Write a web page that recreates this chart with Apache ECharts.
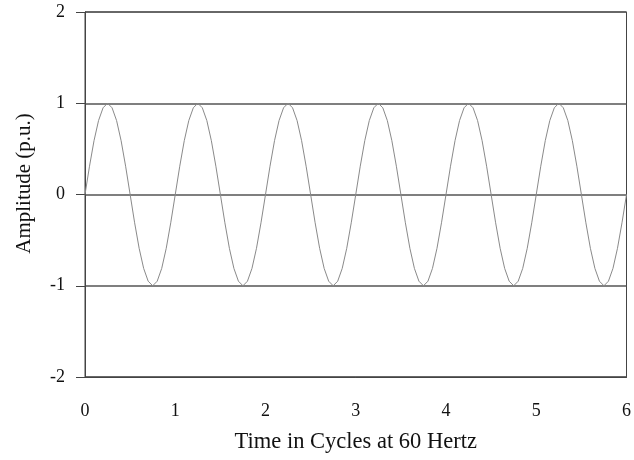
<!DOCTYPE html>
<html><head><meta charset="utf-8">
<script src="https://cdn.jsdelivr.net/npm/echarts@6/dist/echarts.min.js"></script>
<style>html,body{margin:0;padding:0;background:#fff}#c{width:634px;height:460px}</style>
</head><body><div id="c"></div>
<script>
var xTicks = [0, 1, 2, 3, 4, 5, 6];
var yTicks = [-2, -1, 0, 1, 2];
var timeCycles = [
0,0.05,0.1,0.15,0.2,0.25,0.3,0.35,0.4,0.45,0.5,0.55,0.6,0.65,0.7,0.75,0.8,0.85,0.9,0.95,
1,1.05,1.1,1.15,1.2,1.25,1.3,1.35,1.4,1.45,1.5,1.55,1.6,1.65,1.7,1.75,1.8,1.85,1.9,1.95,
2,2.05,2.1,2.15,2.2,2.25,2.3,2.35,2.4,2.45,2.5,2.55,2.6,2.65,2.7,2.75,2.8,2.85,2.9,2.95,
3,3.05,3.1,3.15,3.2,3.25,3.3,3.35,3.4,3.45,3.5,3.55,3.6,3.65,3.7,3.75,3.8,3.85,3.9,3.95,
4,4.05,4.1,4.15,4.2,4.25,4.3,4.35,4.4,4.45,4.5,4.55,4.6,4.65,4.7,4.75,4.8,4.85,4.9,4.95,
5,5.05,5.1,5.15,5.2,5.25,5.3,5.35,5.4,5.45,5.5,5.55,5.6,5.65,5.7,5.75,5.8,5.85,5.9,5.95,
6];
var amplitude = [
0,0.31,0.59,0.81,0.95,1,0.95,0.81,0.59,0.31,0,-0.31,-0.59,-0.81,-0.95,-1,-0.95,-0.81,-0.59,-0.31,
0,0.31,0.59,0.81,0.95,1,0.95,0.81,0.59,0.31,0,-0.31,-0.59,-0.81,-0.95,-1,-0.95,-0.81,-0.59,-0.31,
0,0.31,0.59,0.81,0.95,1,0.95,0.81,0.59,0.31,0,-0.31,-0.59,-0.81,-0.95,-1,-0.95,-0.81,-0.59,-0.31,
0,0.31,0.59,0.81,0.95,1,0.95,0.81,0.59,0.31,0,-0.31,-0.59,-0.81,-0.95,-1,-0.95,-0.81,-0.59,-0.31,
0,0.31,0.59,0.81,0.95,1,0.95,0.81,0.59,0.31,0,-0.31,-0.59,-0.81,-0.95,-1,-0.95,-0.81,-0.59,-0.31,
0,0.31,0.59,0.81,0.95,1,0.95,0.81,0.59,0.31,0,-0.31,-0.59,-0.81,-0.95,-1,-0.95,-0.81,-0.59,-0.31,
0];
var xName = 'Time in Cycles at 60 Hertz';
var yName = 'Amplitude (p.u.)';

var pts = timeCycles.map(function (t, i) { return [t, amplitude[i]]; });
var font = 'Liberation Serif, Times New Roman, serif';
var chart = echarts.init(document.getElementById('c'), null, {renderer: 'canvas'});
chart.setOption({
  animation: false,
  backgroundColor: '#fff',
  grid: {left: 85, right: 7, top: 12, bottom: 83, show: true, borderColor: '#444', borderWidth: 1, backgroundColor: 'transparent'},
  xAxis: {
    type: 'value', min: xTicks[0], max: xTicks[xTicks.length - 1], interval: 1,
    name: xName, nameLocation: 'middle', nameGap: 54,
    nameTextStyle: {fontFamily: font, fontSize: 22.5, color: '#111'},
    axisLine: {show: true, onZero: false, lineStyle: {color: '#444', width: 1}},
    axisTick: {show: false},
    axisLabel: {margin: 25, fontFamily: font, fontSize: 18, color: '#111'},
    splitLine: {show: false}
  },
  yAxis: {
    type: 'value', min: yTicks[0], max: yTicks[yTicks.length - 1], interval: 1,
    name: yName, nameLocation: 'middle', nameGap: 50, nameRotate: 90,
    nameTextStyle: {fontFamily: font, fontSize: 21, color: '#111', padding: [0, 0, 0, 22]},
    axisLine: {show: true, lineStyle: {color: '#444', width: 1}},
    axisTick: {show: true, inside: false, length: 9, lineStyle: {color: '#444'}},
    axisLabel: {margin: 20, fontFamily: font, fontSize: 18, color: '#111'},
    splitLine: {show: true, lineStyle: {color: '#555', width: 1.5}}
  },
  series: [{
    type: 'line', data: pts, showSymbol: false, smooth: false,
    lineStyle: {color: '#8a8a8a', width: 1}
  }]
});
</script></body></html>
